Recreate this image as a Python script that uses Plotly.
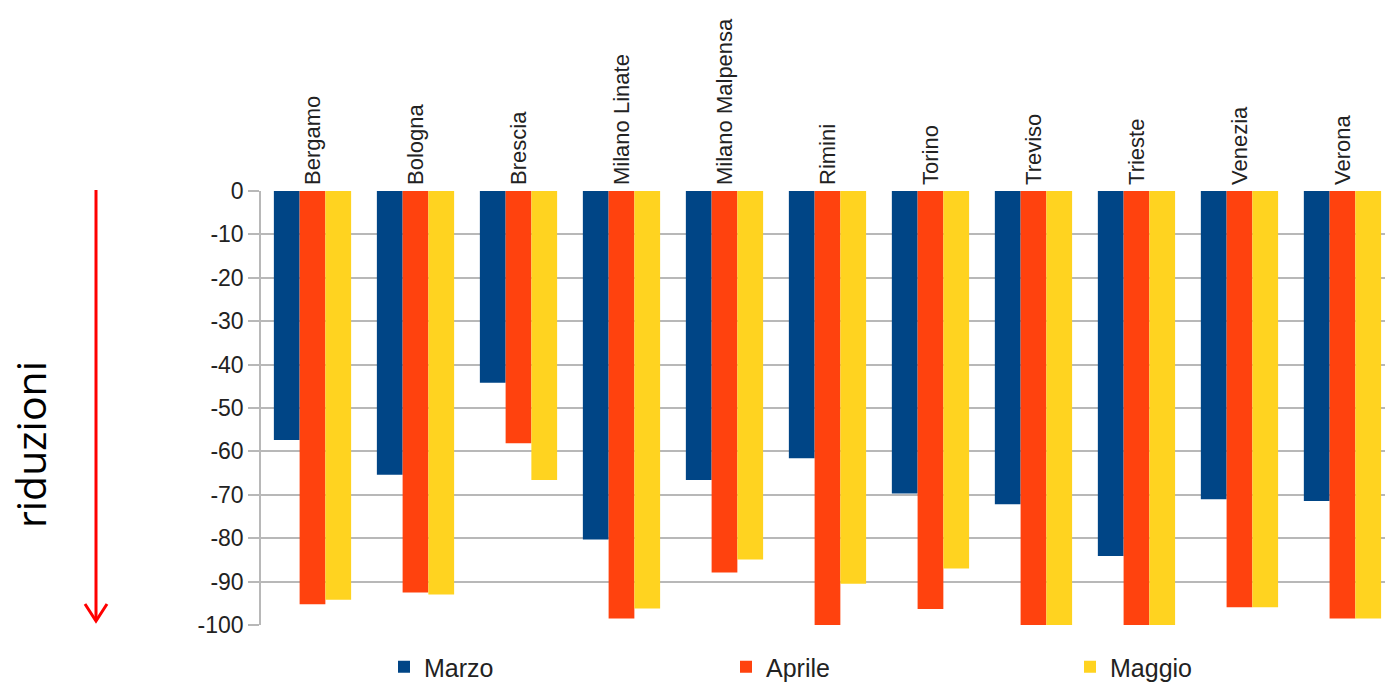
import plotly.graph_objects as go

# Airports and monthly traffic change (%)
aeroporti = ["Bergamo", "Bologna", "Brescia", "Milano Linate", "Milano Malpensa",
             "Rimini", "Torino", "Treviso", "Trieste", "Venezia", "Verona"]
marzo = [-57.4, -65.4, -44.2, -80.3, -66.6, -61.6, -69.7, -72.2, -84.1, -71.0, -71.4]
aprile = [-95.2, -92.5, -58.1, -98.5, -87.9, -100, -96.3, -100, -100, -95.9, -98.5]
maggio = [-94.2, -93.0, -66.6, -96.2, -84.9, -90.5, -87.0, -100, -100, -95.9, -98.5]

y_ticks = [0, -10, -20, -30, -40, -50, -60, -70, -80, -90, -100]
y_ticklabels = ["0", "-10", "-20", "-30", "-40", "-50", "-60", "-70", "-80", "-90", "-100"]

serie = [("Marzo", marzo, "#004586"), ("Aprile", aprile, "#ff420e"), ("Maggio", maggio, "#ffd320")]
legend_px = [384, 726, 1070]  # left edge of each legend entry

W, H = 1385, 682
ML, MR, MT, MB = 261, 0, 191, 57
PW, PH = W - ML - MR, H - MT - MB


def px_x(px):
    return (px - ML) / PW


def px_y(py):
    return (H - MB - py) / PH


fig = go.Figure()
legend_ids = ["legend", "legend2", "legend3"]
for (nome, valori, colore), lid in zip(serie, legend_ids):
    fig.add_trace(go.Bar(x=aeroporti, y=valori, name=nome, legend=lid,
                         marker=dict(color=colore, line=dict(width=0))))

grid = "#b8b8b8"
legend_font = dict(size=25, family="Liberation Sans", color="#222222")
layout_legends = {
    lid: dict(orientation="h", x=px_x(lx), xanchor="left",
              y=px_y(667), yanchor="middle", font=legend_font,
              bgcolor="rgba(0,0,0,0)")
    for lid, lx in zip(legend_ids, legend_px)
}

fig.update_layout(
    width=W, height=H,
    margin=dict(l=ML, r=MR, t=MT, b=MB, pad=0, autoexpand=False),
    paper_bgcolor="white", plot_bgcolor="white",
    barmode="group", bargap=0.25, bargroupgap=0,
    font=dict(family="Liberation Sans", color="#222222"),
    xaxis=dict(side="top", tickangle=-90, range=[-0.5, 10.413],
               showgrid=False, showline=False, ticks="", ticklabelstandoff=5,
               tickfont=dict(size=22, family="Liberation Sans", color="#222222")),
    yaxis=dict(range=[-100, 0], tickmode="array", tickvals=y_ticks, ticktext=y_ticklabels,
               showgrid=True, gridcolor=grid, gridwidth=1.5,
               zeroline=False, showline=True, linecolor=grid, linewidth=1.5,
               ticks="outside", ticklen=11, tickcolor=grid, tickwidth=1.5,
               tickfont=dict(size=23, family="Liberation Sans", color="#222222")),
    showlegend=True,
    **layout_legends,
)

# Side caption and downward arrow
fig.add_annotation(text="riduzioni", xref="paper", yref="paper",
                   x=px_x(30), y=px_y(445), xanchor="center", yanchor="middle",
                   textangle=-90, showarrow=False,
                   font=dict(size=41, family="Open Sans", color="black"))
fig.add_shape(type="line", xref="paper", yref="paper",
              x0=px_x(96), x1=px_x(96), y0=px_y(190), y1=px_y(621),
              line=dict(color="#ff0000", width=3))
fig.add_shape(type="path", xref="paper", yref="paper",
              path=f"M {px_x(85)} {px_y(604)} L {px_x(96)} {px_y(621)} L {px_x(107)} {px_y(604)}",
              line=dict(color="#ff0000", width=3))

fig.write_html("out.html")
